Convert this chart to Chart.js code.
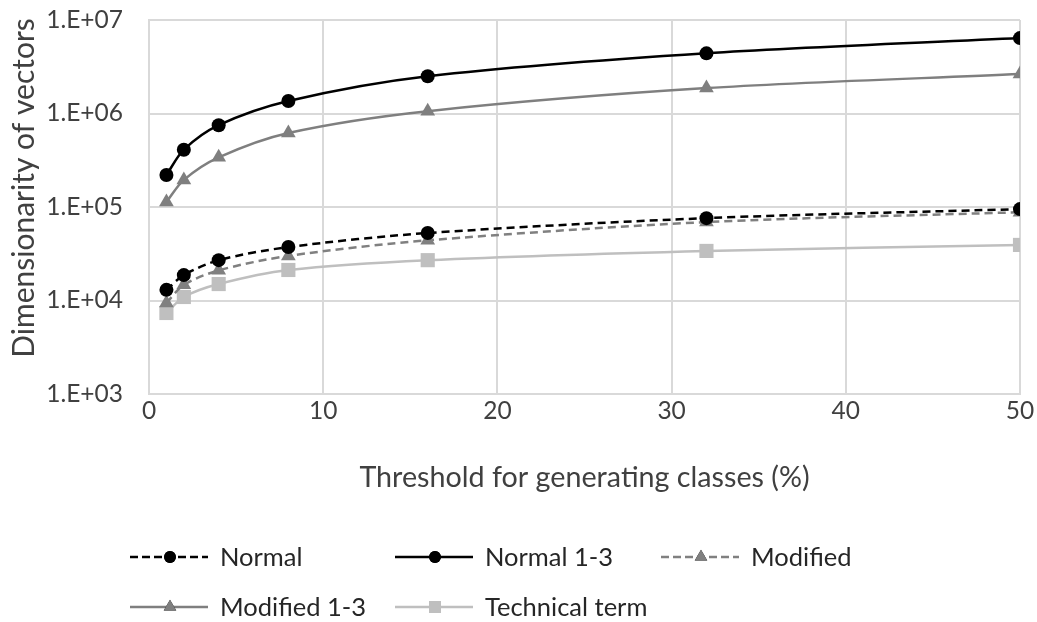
<!DOCTYPE html>
<html>
<head>
<meta charset="utf-8">
<script src="https://cdn.jsdelivr.net/npm/chart.js@4/dist/chart.umd.min.js"></script>
<style>
html,body{margin:0;padding:0;background:#fff;}
#wrap{width:1037px;height:622px;position:relative;}
</style>
</head>
<body>
<div id="wrap"><canvas id="c" width="1037" height="622"></canvas></div>
<script>
const thresholds = [1, 2, 4, 8, 16, 32, 50];
const normal     = [13000, 18700, 27000, 37300, 52700, 76000, 95000];
const normal13   = [220000, 410000, 750000, 1360000, 2500000, 4400000, 6400000];
const modified   = [9400, 14700, 21000, 30000, 44000, 69000, 88000];
const modified13 = [113000, 195000, 340000, 620000, 1060000, 1870000, 2640000];
const technical  = [7350, 10900, 15000, 21200, 27000, 33900, 39300];
const yTicks = [1e3, 1e4, 1e5, 1e6, 1e7];
const xTitle = 'Threshold for generating classes (%)';
const yTitle = 'Dimensionarity of vectors';

const FONT = 'Lato, "Open Sans", sans-serif';
const pts = arr => arr.map((v, i) => ({x: thresholds[i], y: v}));

function ds(label, data, color, dash, style, r) {
  return {
    label, data: pts(data), borderColor: color, backgroundColor: color,
    borderWidth: 2.5, borderDash: dash, pointStyle: style, pointRadius: r,
    pointHoverRadius: r, pointBorderWidth: 0, tension: 0.3, showLine: true, fill: false
  };
}

const datasets = [
  ds('Normal', normal, '#000000', [8, 5], 'circle', 7),
  ds('Normal 1-3', normal13, '#000000', [], 'circle', 7),
  ds('Modified', modified, '#808080', [8, 5], 'triangle', 8.5),
  ds('Modified 1-3', modified13, '#7f7f7f', [], 'triangle', 8.5),
  ds('Technical term', technical, '#bfbfbf', [], 'rect', 10)
];

const legendPlugin = {
  id: 'customLegend',
  afterDraw(chart) {
    const ctx = chart.ctx;
    const cols = [130, 395, 661];
    const rows = [557, 607];
    chart.data.datasets.forEach((d, i) => {
      const x0 = cols[i % 3], y = rows[Math.floor(i / 3)];
      ctx.save();
      ctx.strokeStyle = d.borderColor;
      ctx.lineWidth = d.borderWidth;
      ctx.setLineDash(d.borderDash.length ? [8, 4] : []);
      ctx.beginPath();
      ctx.moveTo(x0, y); ctx.lineTo(x0 + 78, y);
      ctx.stroke();
      ctx.setLineDash([]);
      Chart.helpers.drawPoint(ctx, {pointStyle: d.pointStyle, radius: d.pointRadius * 0.85, rotation: 0, borderWidth: 0}, x0 + 40, y);
      ctx.fillStyle = d.backgroundColor;
      ctx.fill();
      ctx.fillStyle = '#262626';
      ctx.font = '25.5px ' + FONT;
      ctx.textBaseline = 'middle';
      ctx.textAlign = 'left';
      ctx.fillText(d.label, x0 + 90, y + 1);
      ctx.restore();
    });
    // y-axis title (placed as in reference, slightly above plot centre)
    ctx.save();
    ctx.translate(24, 188);
    ctx.rotate(-Math.PI / 2);
    ctx.fillStyle = '#404040';
    ctx.font = '30px ' + FONT;
    ctx.textAlign = 'center';
    ctx.textBaseline = 'middle';
    ctx.fillText(yTitle, 0, 0);
    ctx.restore();
  }
};

new Chart(document.getElementById('c'), {
  type: 'scatter',
  data: {datasets},
  plugins: [legendPlugin],
  options: {
    responsive: false,
    animation: false,
    layout: {padding: {top: 20, right: 17, bottom: 127, left: 0}, autoPadding: false},
    plugins: {legend: {display: false}, tooltip: {enabled: false}},
    scales: {
      x: {
        type: 'linear', min: 0, max: 50,
        ticks: {stepSize: 10, color: '#404040', font: {size: 24.5, family: FONT}, padding: 2},
        grid: {color: '#d9d9d9', lineWidth: 2, drawTicks: false},
        border: {color: '#d9d9d9', width: 2},
        title: {display: true, text: xTitle, color: '#404040', font: {size: 28.7, family: FONT}, padding: 0},
        afterFit(s) { s.height = 101; s.paddingLeft = 0; s.paddingRight = 0; }
      },
      y: {
        type: 'logarithmic', min: 1e3, max: 1e7,
        afterBuildTicks(s) { s.ticks = yTicks.map(v => ({value: v})); },
        ticks: {
          color: '#404040', font: {size: 24.5, family: FONT}, padding: 26,
          callback: v => '1.E+' + String(Math.round(Math.log10(v))).padStart(2, '0')
        },
        grid: {color: '#d9d9d9', lineWidth: 2, drawTicks: false},
        border: {color: '#d9d9d9', width: 2},
        title: {display: false, text: yTitle},
        afterFit(s) { s.width = 149; s.paddingTop = 0; s.paddingBottom = 0; }
      }
    }
  }
});
</script>
</body>
</html>
